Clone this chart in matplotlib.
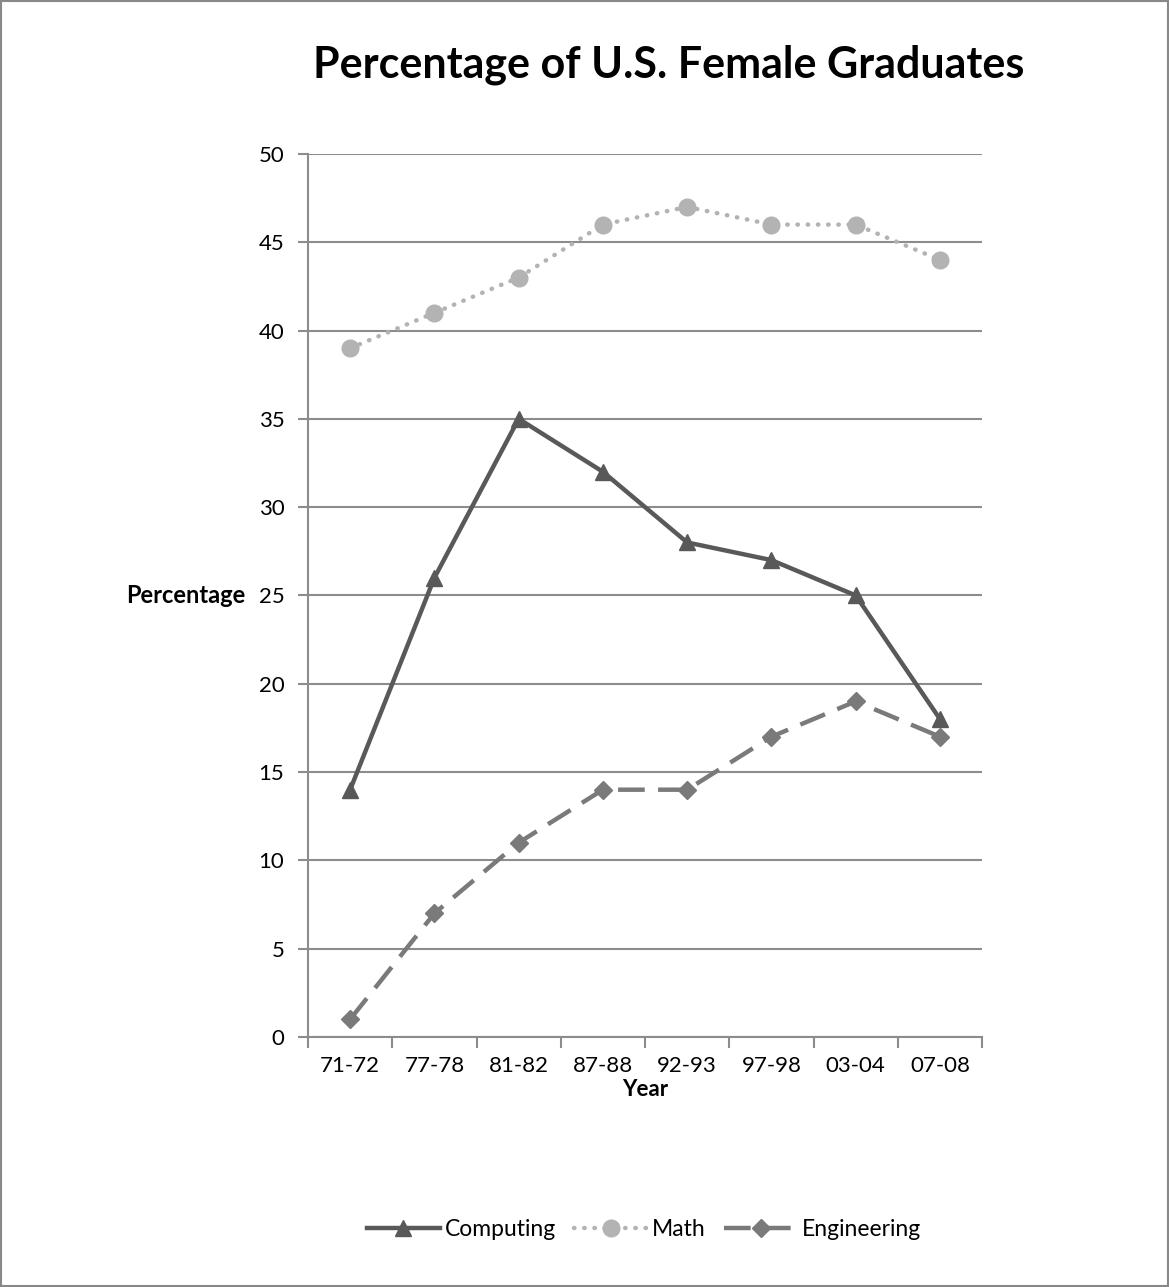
import matplotlib
matplotlib.use("Agg")
import matplotlib.pyplot as plt
import numpy as np
from matplotlib.patches import Rectangle

plt.rcParams["font.family"] = ["Lato", "DejaVu Sans"]

years = ["71-72", "77-78", "81-82", "87-88", "92-93", "97-98", "03-04", "07-08"]
computing = [14, 26, 35, 32, 28, 27, 25, 18]
math = [39, 41, 43, 46, 47, 46, 46, 44]
engineering = [1, 7, 11, 14, 14, 17, 19, 17]

GRID = "#8c8c8c"
TICK_FONTSIZE = 16

fig = plt.figure(figsize=(11.69, 12.87), dpi=100)
fig.patches.append(Rectangle((0.001, 0.001), 0.998, 0.998, transform=fig.transFigure,
                             fill=False, edgecolor="#888888", linewidth=1.5))
ax = fig.add_axes([0.2635, 0.1943, 0.5766, 0.6861])

x = np.arange(len(years))
ax.plot(x, computing, color="#595959", linewidth=3.2, marker="^", markersize=11,
        label="Computing", zorder=3)
ax.plot(x, math, color="#b3b3b3", linewidth=3.2, linestyle=(0, (0.1, 2.2)),
        dash_capstyle="round", marker="o", markersize=12, label="Math", zorder=3)
ax.plot(x, engineering, color="#7a7a7a", linewidth=3.2, linestyle=(0, (6, 3)),
        marker="D", markersize=9, label="Engineering", zorder=4)

ax.set_xlim(-0.5, len(years) - 0.5)
ax.set_ylim(0, 50)
ax.set_yticks(np.arange(0, 51, 5))
ax.yaxis.grid(True, color=GRID, linewidth=1.5)
ax.set_axisbelow(True)

ax.set_xticks(x)
ax.set_xticklabels(years, fontsize=TICK_FONTSIZE)
ax.set_xticks(np.arange(-0.5, len(years)), minor=True)
ax.tick_params(axis="x", which="major", length=0, pad=14)
ax.tick_params(axis="x", which="minor", length=8, width=1.5, color=GRID)
ax.tick_params(axis="y", length=7, width=1.5, color=GRID, labelsize=TICK_FONTSIZE, pad=10)

for side in ["top", "right"]:
    ax.spines[side].set_visible(False)
for side in ["left", "bottom"]:
    ax.spines[side].set_color(GRID)
    ax.spines[side].set_linewidth(1.5)

ax.set_xlabel("Year", fontsize=16, fontweight="bold", labelpad=2)
ax.set_ylabel("Percentage", fontsize=17, fontweight="bold", rotation=0,
              ha="right", va="center")
ax.yaxis.set_label_coords(-0.093, 0.5)

fig.text(0.572, 0.9495, "Percentage of U.S. Female Graduates", fontsize=31,
         fontweight="bold", ha="center", va="center")

fig.legend(loc="center", bbox_to_anchor=(0.551, 0.045), ncol=3, frameon=False,
           fontsize=16.5, handlelength=3.2, handletextpad=0.2, columnspacing=0.8)

fig.savefig("out.png", dpi=100)
